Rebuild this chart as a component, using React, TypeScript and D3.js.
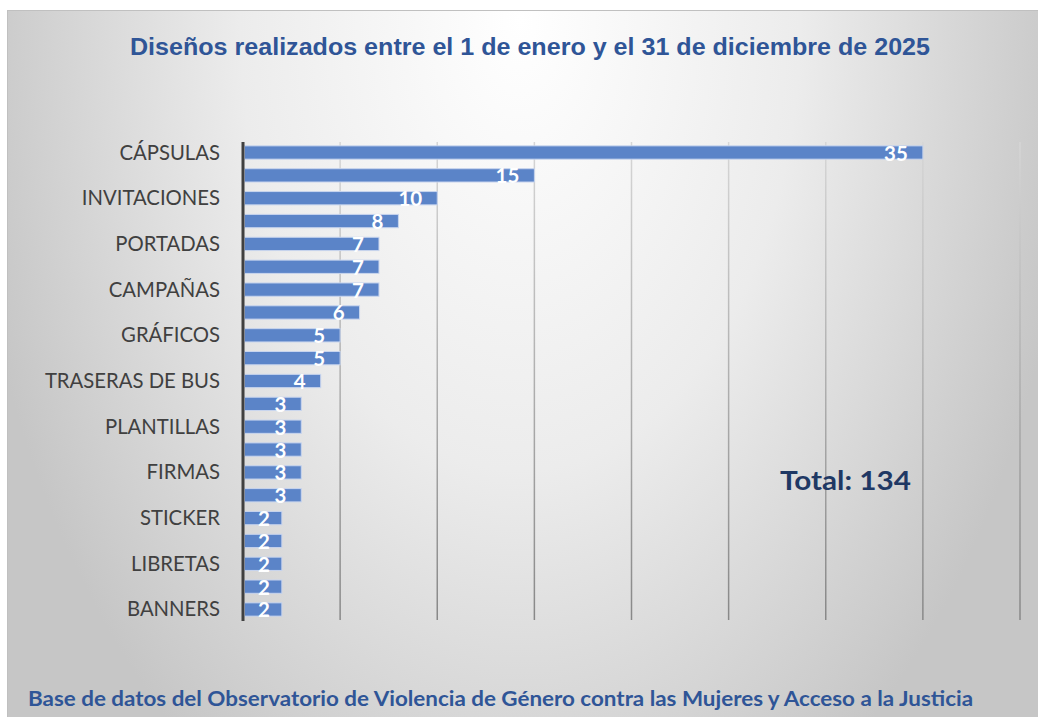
import React from 'react';
import * as d3 from 'd3';

// Categories (Excel hid every other axis label; hidden names are unknown -> "")
const categories: string[] = [
  'CÁPSULAS', '', 'INVITACIONES', '', 'PORTADAS', '', 'CAMPAÑAS', '', 'GRÁFICOS', '',
  'TRASERAS DE BUS', '', 'PLANTILLAS', '', 'FIRMAS', '', 'STICKER', '', 'LIBRETAS', '', 'BANNERS',
];
const values: number[] = [35, 15, 10, 8, 7, 7, 7, 6, 5, 5, 4, 3, 3, 3, 3, 3, 2, 2, 2, 2, 2];
const xTicks: number[] = [0, 5, 10, 15, 20, 25, 30, 35, 40];

const title = 'Diseños realizados entre el 1 de enero y el 31 de diciembre de 2025';
const footer = 'Base de datos del Observatorio de Violencia de Género contra las Mujeres y Acceso a la Justicia';

const W = 1038;
const H = 717;
const plot = { left: 243, right: 1020, top: 142, bottom: 620 };

export default function App() {
  const x = d3.scaleLinear().domain([0, 40]).range([plot.left, plot.right]);
  const idx = d3.range(values.length).map(String);
  const y = d3
    .scaleBand<string>()
    .domain(idx)
    .range([plot.top, plot.bottom])
    .paddingInner(0.418)
    .paddingOuter(0.169);
  const total = d3.sum(values);
  const labelFont = 'Lato, "Open Sans", sans-serif';

  return (
    <svg
      width={W}
      height={H}
      style={{ position: 'absolute', left: 0, top: 0, overflow: 'hidden' }}
    >
      <defs>
        <radialGradient id="bg" gradientUnits="userSpaceOnUse" cx={520} cy={20} r={1}
          gradientTransform="translate(520,20) scale(560,900) translate(-520,-20)">
          <stop offset="0" stopColor="#ffffff" />
          <stop offset="0.5" stopColor="#ececec" />
          <stop offset="1" stopColor="#c6c6c6" />
        </radialGradient>
        <linearGradient id="grid" gradientUnits="userSpaceOnUse" x1={0} y1={plot.top} x2={0} y2={plot.bottom}>
          <stop offset="0" stopColor="#d6d6d6" />
          <stop offset="1" stopColor="#888888" />
        </linearGradient>
      </defs>
      <rect x={0} y={0} width={W} height={H} fill="#ffffff" />
      <rect x={7.5} y={10.5} width={W + 10} height={H + 10} fill="url(#bg)" stroke="#c0c0c0" strokeWidth={1} />

      <text
        x={530}
        y={55}
        textAnchor="middle"
        fontFamily='"Liberation Sans", Arial, sans-serif'
        fontWeight="bold"
        fontSize={23.5}
        fill="#2f5597"
        textLength={800}
        lengthAdjust="spacingAndGlyphs"
      >
        {title}
      </text>

      {/* gridlines */}
      {xTicks.slice(1).map((t) => (
        <line
          key={t}
          x1={x(t)}
          x2={x(t)}
          y1={plot.top}
          y2={plot.bottom}
          stroke="url(#grid)"
          strokeWidth={1.5}
        />
      ))}

      {/* bars */}
      {values.map((v, i) => (
        <rect
          key={i}
          x={x(0) + 1.5}
          y={y(String(i))!}
          width={x(v) - x(0) - 1.5}
          height={y.bandwidth()}
          fill="#5b84c8"
          stroke="#c8d5ee"
          strokeWidth={1}
        />
      ))}

      {/* data labels */}
      {values.map((v, i) => (
        <text
          key={i}
          x={x(v) - (v < 3 ? 12 : 15)}
          y={y(String(i))! + y.bandwidth() / 2 + 8}
          textAnchor="end"
          fontFamily={labelFont}
          fontWeight="bold"
          fontSize={20.5}
          fill="#ffffff"
        >
          {v}
        </text>
      ))}

      {/* axis line */}
      <line x1={x(0)} x2={x(0)} y1={plot.top} y2={plot.bottom + 1} stroke="#404040" strokeWidth={3} />

      {/* category labels */}
      {categories.map((c, i) =>
        c ? (
          <text
            key={i}
            x={220}
            y={y(String(i))! + y.bandwidth() / 2 + 7}
            textAnchor="end"
            fontFamily={labelFont}
            fontSize={20.3}
            fill="#404040"
          >
            {c}
          </text>
        ) : null
      )}

      <text
        x={780}
        y={490}
        fontFamily={labelFont}
        fontWeight="bold"
        fontSize={26}
        fill="#1f3864"
        textLength={131}
        lengthAdjust="spacingAndGlyphs"
      >
        {`Total: ${total}`}
      </text>

      <text
        x={28}
        y={706}
        fontFamily={labelFont}
        fontWeight="bold"
        fontSize={20.5}
        fill="#2f5597"
        textLength={945}
        lengthAdjust="spacingAndGlyphs"
      >
        {footer}
      </text>
    </svg>
  );
}
